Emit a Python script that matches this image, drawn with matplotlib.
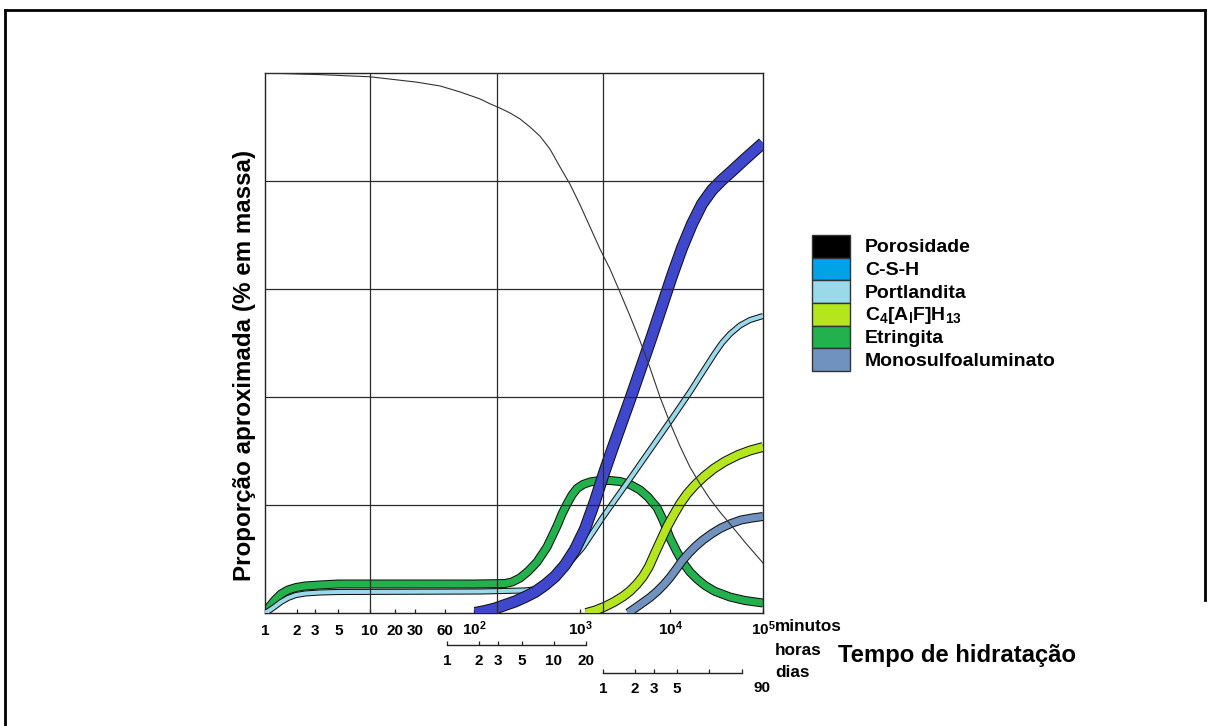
import numpy as np
import matplotlib
matplotlib.use("Agg")
import matplotlib.pyplot as plt
import matplotlib.patheffects as pe
from matplotlib.patches import Rectangle
from matplotlib.lines import Line2D
from matplotlib.ticker import NullLocator

plt.rcParams['font.family'] = ['Liberation Sans', 'DejaVu Sans']
plt.rcParams['font.weight'] = 'bold'
plt.rcParams['mathtext.fontset'] = 'custom'
plt.rcParams['mathtext.rm'] = 'Liberation Sans:bold'
plt.rcParams['mathtext.it'] = 'Liberation Sans:bold'
plt.rcParams['mathtext.bf'] = 'Liberation Sans:bold'

# ---------------------------------------------------------------- data
# time in minutes, proportion in % of mass
poro_t = [1, 3.34, 10, 31.4, 53.5, 78.1, 116.6, 150.5, 191.5, 235.4, 289.4,
          355.9, 437.7, 538.2, 661.6, 813.5, 1000, 1172, 1373, 1763, 2354,
          3145, 4200, 5609, 7487, 10000, 12811, 16412, 21016, 26924, 34487,
          44175, 64048, 100000]
poro_v = [100, 99.7, 99.3, 98.3, 97.6, 96.5, 95.2, 94.3, 93.5, 92.6, 91.5,
          90.0, 88.3, 85.9, 82.6, 79.4, 75.6, 71.5, 67.4, 63.7, 59.4, 55.0,
          50.4, 45.4, 40.0, 35.2, 30.9, 27.0, 23.9, 21.1, 18.7, 16.5, 13.1,
          9.26]

csh_t = [102.6, 132.5, 171.1, 212.3, 261.1, 321.0, 394.7, 485.3, 596.7,
         733.6, 902.1, 1082, 1269, 1482, 1868, 2495, 3332, 4449, 5941, 7934,
         10507, 13459, 17243, 22088, 28289, 36235, 46418, 64048, 100000]
csh_v = [0, 0.37, 0.83, 1.48, 2.13, 2.96, 3.89, 5.19, 6.76, 8.89, 11.76,
         15.56, 20.74, 25.93, 30.19, 35.37, 40.56, 45.93, 51.30, 56.85, 62.41,
         67.59, 72.04, 75.74, 78.33, 80.19, 81.85, 84.07, 87.04]

port_t = [1, 1.116, 1.245, 1.420, 1.656, 1.973, 2.404, 3.341, 4.957, 116.6,
          321.0, 378.8, 437.7, 516.4, 596.7, 689.4, 813.5, 940.0, 1049, 1229,
          1440, 2038, 2884, 4449, 6867, 10771, 16412, 23783, 30470, 36235,
          44175, 56580, 72480, 100000]
port_v = [0, 0.56, 1.20, 2.04, 2.78, 3.33, 3.61, 3.80, 3.89, 3.98, 4.17,
          4.35, 4.72, 5.56, 6.48, 7.78, 9.44, 10.93, 12.22, 15.0, 17.78,
          20.93, 24.07, 28.06, 32.04, 36.30, 40.93, 45.28, 48.15, 50.0, 51.67,
          53.24, 54.26, 55.0]

ett_t = [1, 1.116, 1.245, 1.420, 1.656, 1.973, 2.404, 3.341, 4.957, 100,
         212.3, 245.4, 289.4, 341.5, 411.4, 505.8, 621.8, 689.4, 764.4,
         847.7, 940.0, 1049, 1172, 1373, 1763, 2354, 3145, 4200, 5291, 6116,
         6867, 8168, 10000, 11891, 13800, 16412, 19514, 23783, 30470, 44175,
         64048, 100000]
ett_v = [0, 1.30, 2.41, 3.52, 4.26, 4.72, 5.0, 5.19, 5.37, 5.37, 5.46, 5.74,
         6.48, 7.69, 9.44, 12.22, 16.11, 18.33, 20.19, 21.85, 23.06, 23.80,
         24.26, 24.54, 24.54, 24.35, 23.80, 22.78, 21.48, 20.37, 19.54, 17.22,
         13.89, 11.30, 9.35, 7.59, 6.30, 5.09, 4.0, 2.96, 2.31, 1.85]

c4af_t = [1100, 1269, 1526, 1979, 2568, 3145, 3850, 4580, 5448, 6480, 7708,
          9170, 10771, 12811, 15236, 18569, 23206, 29725, 39034, 53838,
          72480, 100000]
c4af_v = [0, 0.46, 1.20, 2.04, 3.06, 4.07, 5.37, 6.76, 8.61, 11.11, 13.52,
          15.93, 17.96, 20.19, 22.04, 23.70, 25.28, 26.76, 28.06, 29.26,
          30.09, 30.74]

mono_t = [2968, 3741, 4580, 5609, 6867, 8406, 10000, 11600, 13459, 16005,
          19033, 22631, 28289, 35356, 45278, 57997, 76150, 100000]
mono_v = [0, 1.02, 1.94, 2.87, 3.98, 5.28, 6.57, 8.06, 9.63, 11.11, 12.41,
          13.52, 14.72, 15.74, 16.57, 17.22, 17.59, 17.87]

minute_ticks = [1, 2, 3, 5, 10, 20, 30, 60, 100, 1000, 10000, 100000]
minute_labels = ['1', '2', '3', '5', '10', '20', '30', '60',
                 '10$^2$', '10$^3$', '10$^4$', '10$^5$']
hour_ticks = [1, 2, 3, 5, 10, 20]
hour_labels = ['1', '2', '3', '5', '10', '20']
day_ticks = [1, 2, 3, 5, 10, 20.5]
day_labels = ['1', '2', '3', '5', '', '']
day_last_label = '90'
grid_minutes = [10, 180, 1440]
grid_values = [20, 40, 60, 80]

legend_labels = ['Porosidade', 'C-S-H', 'Portlandita',
                 'C$_4$[A$_l$F]H$_{13}$', 'Etringita', 'Monosulfoaluminato']
legend_colors = ['#000000', '#00a2e8', '#99d9ea', '#b5e61d', '#22b14c',
                 '#7092be']

# ------------------------------------------------ schematic time scale
# piecewise mapping of log10(minutes) onto the drawn axis length
LOG_ANCHORS = [0, 1, np.log10(20), np.log10(30), np.log10(60), 2,
               np.log10(180), 3, np.log10(1440), 4, 5]
POS_ANCHORS = [0, 105, 130, 150, 180, 209, 232, 315, 338, 405, 498]


def fwd(x):
    x = np.clip(np.asarray(x, dtype=float), 1e-9, None)
    return np.interp(np.log10(x), LOG_ANCHORS, POS_ANCHORS)


def inv(p):
    return 10 ** np.interp(np.asarray(p, dtype=float), POS_ANCHORS, LOG_ANCHORS)


W, H = 1210, 726


def fx(px):
    return px / W


def fy(py):
    return 1 - py / H


fig = plt.figure(figsize=(12.1, 7.26), dpi=100)

ax = fig.add_axes([fx(265), fy(613), fx(763) - fx(265), fy(73) - fy(613)])
ax.set_xscale('function', functions=(fwd, inv))
ax.set_xlim(1, 1e5)
ax.set_ylim(0, 100)
ax.set_yticks([])
ax.set_xticks(minute_ticks)
ax.xaxis.set_minor_locator(NullLocator())
ax.tick_params(axis='x', direction='in', length=3, width=0.9,
               labelbottom=False, color='#222222')
for s in ax.spines.values():
    s.set_linewidth(1.0)
    s.set_color('#222222')

line_col = '#2a2a2a'
for t in grid_minutes:
    ax.axvline(t, color=line_col, lw=0.9, zorder=8)
for v in grid_values:
    ax.axhline(v, color=line_col, lw=0.9, zorder=8)


def band(t, v, color, inner, z):
    outer = inner + 1.5
    ax.plot(t, v, color=color, lw=inner, solid_capstyle='butt',
            solid_joinstyle='round', zorder=z,
            path_effects=[pe.Stroke(linewidth=outer, foreground='#111111',
                                    capstyle='butt', joinstyle='round'),
                          pe.Normal()])


band(ett_t, ett_v, '#22b14c', 5.0, 2)
band(port_t, port_v, '#99d9ea', 2.9, 3)
band(csh_t, csh_v, '#3f48cc', 7.2, 4)
band(c4af_t, c4af_v, '#b5e61d', 5.6, 5)
band(mono_t, mono_v, '#7092be', 5.0, 6)
ax.plot(poro_t, poro_v, color='#333333', lw=0.8, zorder=9)

# minute tick labels, aligned on a common baseline
xtrans = ax.get_xaxis_transform()
for t, lbl in zip(minute_ticks, minute_labels):
    ax.text(t, -(635 - 613) / 540, lbl, transform=xtrans, ha='center',
            va='baseline', fontsize=11, fontweight='bold')


def sub_axis(x0, x1, y, lims, ticks, labels):
    a = fig.add_axes([fx(x0), fy(y), fx(x1) - fx(x0), 1e-4])
    a.set_xscale('log')
    a.set_xlim(*lims)
    a.set_xticks(ticks)
    a.set_xticklabels(labels)
    a.xaxis.set_minor_locator(NullLocator())
    a.set_yticks([])
    for s in ['top', 'left', 'right']:
        a.spines[s].set_visible(False)
    a.spines['bottom'].set_linewidth(1.0)
    a.spines['bottom'].set_color('#222222')
    a.patch.set_visible(False)
    a.tick_params(axis='x', direction='in', length=3, width=0.9, pad=6.5,
                  labelsize=11, color='#222222')
    return a


axh = sub_axis(447, 586, 645, (1, 20), hour_ticks, hour_labels)
axd = sub_axis(603, 742, 673, (1, 20.5), day_ticks, day_labels)
fig.text(fx(762), fy(688), day_last_label, ha='center', va='center',
         fontsize=11, fontweight='bold')

# unit names and axis titles
for txt, yb in [('minutos', 631), ('horas', 655), ('dias', 677)]:
    fig.text(fx(775), fy(yb), txt, ha='left', va='baseline', fontsize=12.3,
             fontweight='bold')
fig.text(fx(838), fy(662), 'Tempo de hidratação', ha='left', va='baseline',
         fontsize=17.2, fontweight='bold')
fig.text(fx(245), fy(365), 'Proporção aproximada (% em massa)', rotation=90,
         ha='center', va='center', fontsize=17.4, fontweight='bold')

# legend
row_h = 22.7
for i, (lbl, col) in enumerate(zip(legend_labels, legend_colors)):
    top = 235 + i * row_h
    fig.patches.append(Rectangle((fx(812), fy(top + row_h)), fx(38),
                                 row_h / H, facecolor=col,
                                 edgecolor='#333333', lw=1.0,
                                 transform=fig.transFigure))
    fig.text(fx(865), fy(top + row_h / 2 + 1.5), lbl, ha='left', va='center',
             fontsize=14, fontweight='bold')

# outer frame
for xs, ys in [([5, 1205], [10, 10]), ([5, 5], [10, 726]),
               ([1205, 1205], [10, 600])]:
    fig.lines.append(Line2D([fx(x) for x in xs], [fy(y) for y in ys],
                            transform=fig.transFigure, color='black', lw=2.0))

fig.savefig('out.png', dpi=100)
